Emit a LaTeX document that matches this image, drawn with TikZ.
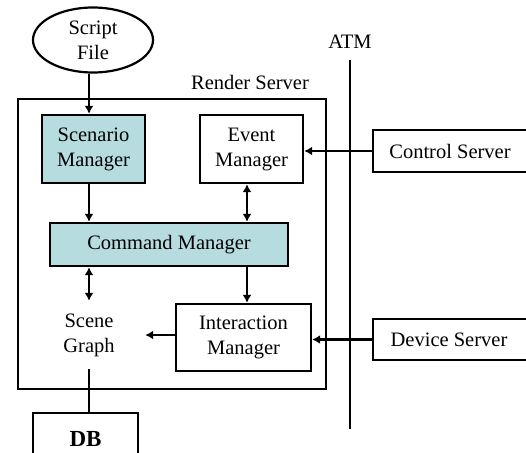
\documentclass[tikz,border=0pt]{standalone}
\usepackage{fontspec}
\setmainfont{Liberation Serif}
\usetikzlibrary{shapes.geometric,arrows.meta,calc}
\definecolor{mgrcyan}{HTML}{B6DCDF}
\begin{document}
\begin{tikzpicture}[x=1pt,y=-1pt,
  font=\fontsize{20.5}{25}\selectfont,
  box/.style={draw,line width=2.4pt,inner sep=0pt,align=center},
  arr/.style={line width=2.2pt,-{Latex[length=8pt,width=9pt]}},
  darr/.style={line width=2.2pt,{Latex[length=8pt,width=9pt]}-{Latex[length=8pt,width=9pt]}},
  ln/.style={line width=2.2pt}]
\useasboundingbox (0,0) rectangle (526,452);
% columns
\coordinate (colA) at (89,0);
\coordinate (colB) at (247,0);
% render server frame
\draw[line width=2.4pt] (18,99) rectangle (326,389);
\node (rslabel) at (250,82) {Render Server};
% ATM bus
\coordinate (atmtop) at (350,60);
\coordinate (atmbot) at (350,429);
\node (atm) at (350,42) {ATM};
\draw[ln] (atmtop) -- (atmbot);
% nodes
\node[draw,ellipse,line width=2.2pt,minimum width=120pt,minimum height=65pt,inner sep=0pt,align=center] (script) at (93,40) {Script\\File};
\node[box,fill=mgrcyan,minimum width=103pt,minimum height=68pt] (scen) at (93.5,149) {Scenario\\Manager};
\node[box,fill=white,minimum width=103pt,minimum height=68pt] (event) at (251.5,149) {Event\\Manager};
\node[box,fill=mgrcyan,minimum width=238pt,minimum height=43pt] (cmd) at (169,244.5) {Command Manager};
\node[box,fill=white,minimum width=135pt,minimum height=67pt] (inter) at (243.5,337.5) {Interaction\\Manager};
\node[align=center,minimum width=112pt,minimum height=68pt,inner sep=0pt] (sg) at (89,335) {Scene\\Graph};
\node[box,minimum width=105pt,minimum height=58pt] (db) at (85.5,442) {\raisebox{6pt}{\fontsize{23}{26}\selectfont\bfseries DB}};
\node[box,fill=white,minimum width=160pt,minimum height=42pt] (control) at (453,151) {\hspace*{-6pt}Control Server};
\node[box,fill=white,minimum width=160pt,minimum height=41pt] (device) at (453,339.5) {\hspace*{-8pt}Device Server};
% connectors
\draw[arr] (script.south -| colA) -- (scen.north -| colA);
\draw[arr] (scen.south -| colA) -- (cmd.north -| colA);
\draw[darr] (event.south -| colB) -- (cmd.north -| colB);
\draw[darr] (cmd.south -| colA) -- (sg.north -| colA);
\draw[arr] (cmd.south -| colB) -- (inter.north -| colB);
\draw[arr] (inter.west |- sg.east) -- (sg.east);
\draw[ln] (sg.south -| colA) -- (db.north -| colA);
\draw[arr] (control.west) -- (control.west -| event.east);
\draw[arr] (device.west) -- (device.west -| inter.east);
\end{tikzpicture}
\end{document}
